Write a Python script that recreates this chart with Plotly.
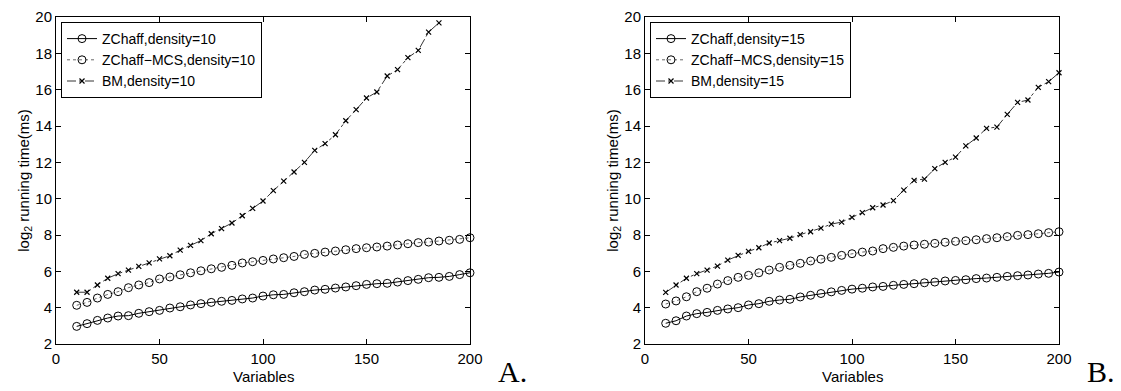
import plotly.graph_objects as go

variables = list(range(10, 205, 5))

# Panel A (density=10)
zchaff_10 = [2.97, 3.12, 3.30, 3.43, 3.54, 3.56, 3.69, 3.78, 3.85, 3.98, 4.05, 4.15, 4.22,
             4.29, 4.35, 4.40, 4.48, 4.53, 4.64, 4.71, 4.73, 4.82, 4.88, 4.97, 5.01, 5.08,
             5.14, 5.21, 5.28, 5.32, 5.34, 5.41, 5.49, 5.56, 5.65, 5.67, 5.72, 5.82, 5.92]
mcs_10 = [4.13, 4.29, 4.53, 4.73, 4.88, 5.10, 5.25, 5.38, 5.58, 5.69, 5.81, 5.92, 6.03,
          6.14, 6.22, 6.33, 6.46, 6.53, 6.60, 6.68, 6.75, 6.82, 6.93, 6.99, 7.06, 7.12,
          7.19, 7.25, 7.30, 7.34, 7.39, 7.45, 7.52, 7.58, 7.61, 7.67, 7.71, 7.76, 7.85]
bm_10 = [4.85, 4.85, 5.25, 5.62, 5.87, 6.07, 6.27, 6.47, 6.69, 6.86, 7.17, 7.43, 7.69,
         8.07, 8.35, 8.66, 9.06, 9.47, 9.87, 10.44, 10.97, 11.47, 12.00, 12.66, 13.03,
         13.52, 14.29, 14.90, 15.54, 15.87, 16.75, 17.10, 17.76, 18.16, 19.17, 19.68]

# Panel B (density=15)
zchaff_15 = [3.14, 3.28, 3.54, 3.67, 3.74, 3.85, 3.93, 4.00, 4.15, 4.22, 4.35, 4.42, 4.46,
             4.59, 4.68, 4.78, 4.87, 4.95, 5.02, 5.07, 5.14, 5.17, 5.23, 5.28, 5.32, 5.37,
             5.41, 5.47, 5.50, 5.54, 5.60, 5.63, 5.67, 5.72, 5.76, 5.80, 5.85, 5.89, 5.96]
mcs_15 = [4.20, 4.37, 4.60, 4.88, 5.07, 5.30, 5.49, 5.67, 5.78, 5.92, 6.07, 6.22, 6.33,
          6.44, 6.57, 6.67, 6.77, 6.88, 6.97, 7.06, 7.12, 7.25, 7.32, 7.39, 7.45, 7.49,
          7.54, 7.60, 7.65, 7.69, 7.74, 7.80, 7.85, 7.91, 7.98, 8.02, 8.07, 8.13, 8.18]
bm_15 = [4.84, 5.25, 5.62, 5.87, 6.07, 6.29, 6.62, 6.88, 7.10, 7.30, 7.56, 7.69, 7.82,
         8.02, 8.18, 8.38, 8.60, 8.71, 8.97, 9.23, 9.50, 9.65, 9.89, 10.47, 11.01, 11.08,
         11.65, 12.00, 12.29, 12.91, 13.34, 13.87, 13.94, 14.64, 15.30, 15.43, 16.13,
         16.44, 16.93]

x_ticks = [0, 50, 100, 150, 200]
y_ticks = list(range(2, 21, 2))

FONT = "Liberation Sans, Arial, sans-serif"
FS = 15
fig = go.Figure()

panels = [
    ("10", zchaff_10, mcs_10, bm_10, "x", "y", "legend"),
    ("15", zchaff_15, mcs_15, bm_15, "x2", "y2", "legend2"),
]
for dens, zc, mcs, bm, xa, ya, lg in panels:
    fig.add_trace(go.Scatter(
        x=variables[:len(zc)], y=zc, mode="lines+markers", xaxis=xa, yaxis=ya, legend=lg,
        name=f"ZChaff,density={dens}", cliponaxis=False,
        line=dict(color="black", width=1, dash="solid"),
        marker=dict(symbol="circle-open", size=8, color="black", line=dict(width=1))))
    fig.add_trace(go.Scatter(
        x=variables[:len(mcs)], y=mcs, mode="lines+markers", xaxis=xa, yaxis=ya, legend=lg,
        name=f"ZChaff\u2212MCS,density={dens}", cliponaxis=False,
        line=dict(color="black", width=0.6, dash="dot"),
        marker=dict(symbol="circle-open", size=8, color="black", line=dict(width=1))))
    fig.add_trace(go.Scatter(
        x=variables[:len(bm)], y=bm, mode="lines+markers", xaxis=xa, yaxis=ya, legend=lg,
        name=f"BM,density={dens}", cliponaxis=False,
        line=dict(color="black", width=0.8, dash="dashdot"),
        marker=dict(symbol="x-thin-open", size=5, color="black", line=dict(width=1.2, color="black"))))

W, H = 1121, 391
axis_common = dict(
    showline=True, linecolor="black", linewidth=1, mirror="ticks",
    ticks="inside", ticklen=5, tickcolor="black", tickwidth=1,
    showgrid=False, zeroline=False, automargin=False,
    tickfont=dict(family=FONT, size=FS, color="black"),
)
y_title = dict(text="log<sub>2</sub> running time(ms)", font=dict(family=FONT, size=FS, color="black"), standoff=2)

y_dom = [1 - 344 / H, 1 - 17 / H]
leg_common = dict(yanchor="top", xanchor="left", y=1 - 22 / H,
                  bordercolor="black", borderwidth=1, bgcolor="white",
                  font=dict(family=FONT, size=14, color="black"),
                  tracegroupgap=0, itemwidth=30)
x1_dom = [56 / W, 470 / W]
x2_dom = [645 / W, 1059 / W]
fig.update_layout(
    width=W, height=H, margin=dict(l=0, r=0, t=0, b=0, autoexpand=False),
    paper_bgcolor="white", plot_bgcolor="white",
    xaxis=dict(domain=x1_dom, range=[0, 200], tickvals=x_ticks, anchor="y",
               ticklabelstandoff=1, **axis_common),
    yaxis=dict(domain=y_dom, range=[2, 20], tickvals=y_ticks, anchor="x",
               title=y_title, **axis_common),
    xaxis2=dict(domain=x2_dom, range=[0, 200], tickvals=x_ticks, anchor="y2",
                ticklabelstandoff=1, **axis_common),
    yaxis2=dict(domain=y_dom, range=[2, 20], tickvals=y_ticks, anchor="x2",
                title=y_title, **axis_common),
    legend=dict(x=61 / W, **leg_common),
    legend2=dict(x=650 / W, **leg_common),
    showlegend=True,
    annotations=[
        dict(text="Variables", x=sum(x1_dom) / 2, y=1 - 376 / H, xref="paper", yref="paper",
             xanchor="center", yanchor="middle", showarrow=False,
             font=dict(family=FONT, size=FS, color="black")),
        dict(text="Variables", x=sum(x2_dom) / 2, y=1 - 376 / H, xref="paper", yref="paper",
             xanchor="center", yanchor="middle", showarrow=False,
             font=dict(family=FONT, size=FS, color="black")),
        dict(text="A.", x=496 / W, y=1 - 390 / H, xref="paper", yref="paper",
             xanchor="left", yanchor="bottom", showarrow=False,
             font=dict(family="Liberation Serif, serif", size=30, color="black")),
        dict(text="B.", x=1085 / W, y=1 - 390 / H, xref="paper", yref="paper",
             xanchor="left", yanchor="bottom", showarrow=False,
             font=dict(family="Liberation Serif, serif", size=30, color="black")),
    ],
)

fig.write_html("out.html")
